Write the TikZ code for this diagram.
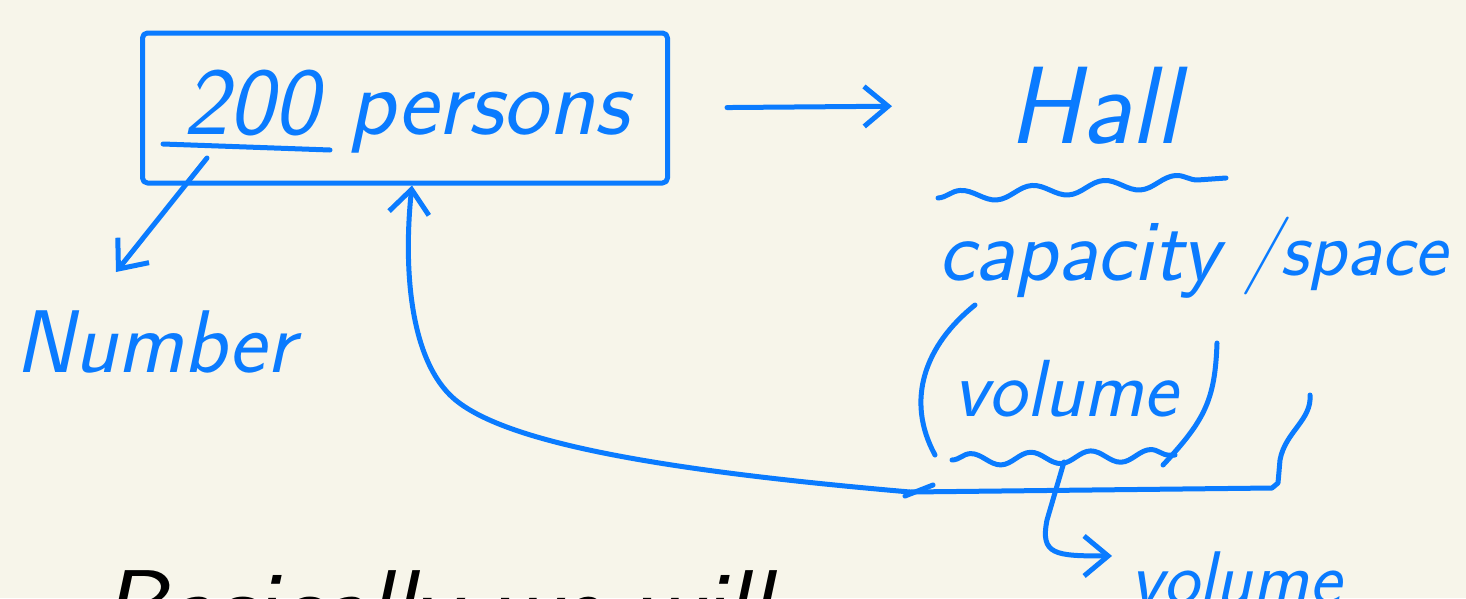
\documentclass[tikz,border=0pt]{standalone}
\usepackage{fontspec}
\usetikzlibrary{arrows.meta,decorations.pathmorphing}
\definecolor{bg}{HTML}{F7F5EA}
\definecolor{pen}{HTML}{0A7BFF}
\newcommand{\hwfont}[1]{\fontsize{#1}{#1}\selectfont\sffamily\itshape}
\tikzset{
 ink/.style={draw=pen, line width=5pt, line cap=round, line join=round},
 hw/.style={text=pen, inner sep=0pt, anchor=base west},
 tipb/.style={-{Straight Barb[length=24pt,width=40pt]}},
 wave/.style={ink, decorate, decoration={snake, segment length=#1, amplitude=6pt}},
}
\begin{document}
\begin{tikzpicture}[x=1pt,y=-1pt]
\fill[bg] (0,0) rectangle (1466,598);
\useasboundingbox (0,0) rectangle (1466,598);
\begin{scope}
\clip (0,0) rectangle (1466,598);
% box with 200 persons
\node[ink, rounded corners=5pt, minimum width=525pt, minimum height=150pt, inner sep=0pt] (box) at (405,108) {};
\node[hw, font=\hwfont{96}] (persons) at (183,134) {200 persons};
\draw[ink] (163,144) -- (330,150);
\coordinate (numtail) at (207,158);
\node[hw, font=\hwfont{89}] (number) at (15,372) {Number};
\coordinate (numtip) at (116,272);
\draw[ink, tipb] (numtail) -- (numtip);
% Hall
\node[hw, font=\hwfont{110}] (hall) at (1008,143) {Hall};
\draw[ink, tipb, shorten <=57pt, shorten >=116pt] (box.east) -- (hall.west);
\draw[wave=72pt] (938,198) -- (1226,178);
\node[hw, font=\hwfont{88}] (capacity) at (938,280) {capacity};
\node[hw, font=\hwfont{78}] (space) at (1244,275) {/space};
% (volume)
\node[hw, font=\hwfont{81}] (volume) at (953,416) {volume};
\draw[ink] (975,305) .. controls (925,345) and (905,400) .. (935,455);
\draw[ink] (1217,343) .. controls (1215,400) and (1205,420) .. (1163,465);
\draw[wave=60pt] (952,460) -- (1175,455);
% bracket and long curved arrow
\coordinate (bk) at (910,492);
\draw[ink] (1310,395) .. controls (1312,420) and (1285,432) .. (1280,460) -- (1278,483) -- (1272,488) -- (bk);
\draw[ink] (905,496) -- (933,485);
\draw[ink, tipb] (bk) .. controls (680,472) and (500,445) .. (450,395) .. controls (405,350) and (405,250) .. ([xshift=7pt]box.south);
% volume arrow
\coordinate (vw) at (1064,462);
\node[hw, font=\hwfont{76}] (volume2) at (1130,604) {volume};
\draw[ink, tipb] (vw) -- (1047,520) .. controls (1040,555) and (1055,556) .. ([xshift=-18pt,yshift=22pt]volume2.west);
% bottom black text (cut off)
\node[hw, text=black, font=\hwfont{105}] (bottom) at (100,643) {Basically we will};
\end{scope}
\end{tikzpicture}
\end{document}
